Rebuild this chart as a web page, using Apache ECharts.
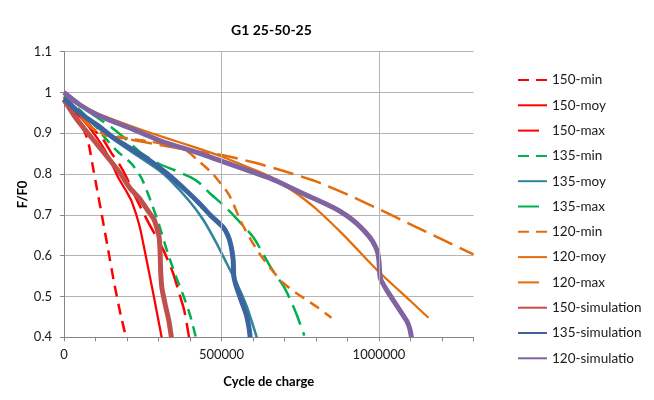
<!DOCTYPE html>
<html><head><meta charset="utf-8">
<script src="https://cdn.jsdelivr.net/npm/echarts@6/dist/echarts.min.js"></script>
<style>html,body{margin:0;padding:0;background:#fff}#c{width:654px;height:400px}</style>
</head><body><div id="c"></div><script>
// ---- data ----
const xMajorLabels = [0, 500000, 1000000];
const xGridLines = [500000, 1000000];

const s150min = [[0,0.99],[30000,0.955],[55000,0.92],[70000,0.895],[80000,0.868],[90000,0.825],[100000,0.783],[120000,0.7],[140000,0.615],[160000,0.53],[180000,0.455],[197000,0.40]];
const s150moy = [[0,0.985],[40000,0.95],[80000,0.915],[117000,0.875],[140000,0.845],[170000,0.795],[200000,0.755],[215000,0.733],[240000,0.672],[262000,0.59],[284000,0.505],[310000,0.40]];
const s150max = [[0,0.99],[50000,0.945],[100000,0.905],[127000,0.882],[150000,0.852],[175000,0.825],[200000,0.79],[224000,0.748],[269000,0.68],[314000,0.616],[345000,0.56],[365000,0.51],[382000,0.465],[397000,0.40]];
const s135min = [[0,0.99],[60000,0.95],[100000,0.918],[127000,0.892],[168000,0.857],[215000,0.825],[246000,0.79],[270000,0.745],[300000,0.68],[330000,0.605],[355000,0.55],[380000,0.5],[400000,0.455],[418000,0.402]];
const s135moy = [[0,0.982],[100000,0.918],[200000,0.862],[300000,0.81],[336000,0.786],[399000,0.733],[442000,0.688],[484000,0.631],[516000,0.582],[548000,0.533],[580000,0.476],[612000,0.40]];
const s135max = [[0,1.0],[80000,0.952],[150000,0.915],[196000,0.886],[240000,0.855],[300000,0.826],[350000,0.81],[400000,0.793],[430000,0.778],[463000,0.753],[500000,0.728],[542000,0.696],[603000,0.643],[656000,0.572],[701000,0.52],[736000,0.461],[763000,0.404]];
const s120min = [[0,1.0],[40000,0.955],[80000,0.92],[120000,0.9],[200000,0.888],[300000,0.876],[380000,0.862],[426000,0.833],[473000,0.8],[524000,0.749],[564000,0.68],[600000,0.63],[627000,0.598],[660000,0.565],[696000,0.533],[744000,0.505],[800000,0.476],[849000,0.448]];
const s120moy = [[0,1.0],[50000,0.972],[106000,0.949],[212000,0.918],[318000,0.89],[414000,0.866],[500000,0.843],[600000,0.812],[654000,0.794],[700000,0.772],[748000,0.747],[800000,0.715],[887000,0.651],[1000000,0.56],[1100000,0.489],[1157000,0.448]];
const s120max = [[0,1.0],[40000,0.955],[80000,0.918],[124000,0.897],[200000,0.886],[300000,0.872],[400000,0.858],[500000,0.847],[600000,0.829],[700000,0.807],[800000,0.782],[900000,0.75],[1000000,0.714],[1100000,0.677],[1200000,0.64],[1300000,0.603]];
const s150sim = [[0,0.982],[40000,0.935],[71000,0.905],[106000,0.872],[145000,0.835],[180000,0.8],[210000,0.765],[240000,0.74],[265000,0.712],[285000,0.69],[295000,0.668],[302000,0.645],[305000,0.61],[307000,0.56],[311000,0.52],[322000,0.478],[333000,0.44],[341000,0.40]];
const s135sim = [[0,0.985],[50000,0.95],[113000,0.916],[159000,0.888],[220000,0.859],[265000,0.837],[326000,0.802],[390000,0.758],[430000,0.728],[464000,0.7],[505000,0.67],[520000,0.65],[530000,0.625],[537000,0.59],[539000,0.55],[545000,0.53],[558000,0.5],[570000,0.475],[580000,0.452],[588000,0.42],[591000,0.40]];
const s120sim = [[0,1.0],[50000,0.97],[106000,0.945],[212000,0.912],[318000,0.878],[414000,0.855],[500000,0.832],[600000,0.805],[654000,0.79],[700000,0.774],[760000,0.752],[855000,0.718],[900000,0.697],[929000,0.679],[960000,0.655],[980000,0.635],[995000,0.61],[1000000,0.585],[1003000,0.55],[1006000,0.541],[1025000,0.515],[1046000,0.49],[1070000,0.462],[1088000,0.44],[1098000,0.42],[1103000,0.40]];

const names = ['150-min','150-moy','150-max','135-min','135-moy','135-max','120-min','120-moy','120-max','150-simulation','135-simulation','120-simulatio'];

// ---- styles ----
const FONT = 'Lato';
const SHORT = [11,7], LONG = [21,8];
function line(name, data, color, width, dash) {
  return {name, type:'line', data, symbol:'none', showSymbol:false, smooth:0.2,
    lineStyle:{color, width, type:dash, cap:'butt', join:'round'}, itemStyle:{color}, silent:true};
}
const RED='#ff0000', GREEN='#00b050', TEAL='#31849b', ORANGE='#e46c0a';
const series = [
  {type:'line', name:'_grid', data:[], symbol:'none', silent:true, z:1,
   markLine:{silent:true, symbol:'none', label:{show:false}, animation:false,
     lineStyle:{color:'#b4b4b4', type:'solid', width:1},
     data: xGridLines.map(v=>({xAxis:v}))}},
  line(names[0], s150min, RED, 2.5, SHORT),
  line(names[1], s150moy, RED, 2.25, 'solid'),
  line(names[2], s150max, RED, 2.5, LONG),
  line(names[3], s135min, GREEN, 2.5, SHORT),
  line(names[4], s135moy, TEAL, 2.5, 'solid'),
  line(names[5], s135max, GREEN, 2.5, LONG),
  line(names[6], s120min, ORANGE, 2.5, SHORT),
  line(names[7], s120moy, ORANGE, 2.25, 'solid'),
  line(names[8], s120max, ORANGE, 2.5, LONG),
  line(names[9], s150sim, '#c0504d', 5, 'solid'),
  line(names[10], s135sim, '#3b64a0', 5, 'solid'),
  line(names[11], s120sim, '#8064a2', 5, 'solid'),
];

const chart = echarts.init(document.getElementById('c'), null, {renderer:'canvas'});
chart.setOption({
  animation:false,
  backgroundColor:'#fff',
  textStyle:{fontFamily:FONT},
  title:{text:'G1 25-50-25', left:226, top:18, textStyle:{fontFamily:FONT, fontSize:14, fontWeight:'bold', color:'#000'}},
  grid:{left:64, top:51.7, right:180.5, bottom:62.7, containLabel:false},
  legend:{data:names, orient:'vertical', left:517, top:73, height:380, padding:0,
    itemWidth:29, itemHeight:14, itemGap:11.3, selectedMode:false,
    itemStyle:{opacity:0},
    textStyle:{fontFamily:FONT, fontSize:13.5, color:'#1a1a1a', lineHeight:14}},
  xAxis:{type:'value', min:0, max:1300000, interval:100000,
    axisLine:{show:true, lineStyle:{color:'#868686', width:1}},
    axisTick:{show:true, length:4, lineStyle:{color:'#868686'}},
    axisLabel:{fontFamily:FONT, fontSize:13, color:'#1a1a1a', margin:11,
      formatter:v => xMajorLabels.includes(v) ? String(v) : ''},
    splitLine:{show:false},
    name:'Cycle de charge', nameLocation:'middle', nameGap:38, nameMoveOverlap:false,
    nameTextStyle:{fontFamily:FONT, fontSize:13, fontWeight:'bold', color:'#000'}},
  yAxis:{type:'value', min:0.4, max:1.1, interval:0.1,
    axisLine:{show:true, lineStyle:{color:'#868686', width:1}},
    axisTick:{show:true, length:4, lineStyle:{color:'#868686'}},
    axisLabel:{fontFamily:FONT, fontSize:13, color:'#1a1a1a', margin:12,
      formatter:v => String(Math.round(v*10)/10)},
    splitLine:{show:true, lineStyle:{color:'#b4b4b4', width:1}},
    name:'F/F0', nameLocation:'middle', nameGap:35, nameRotate:90, nameMoveOverlap:false,
    nameTextStyle:{fontFamily:FONT, fontSize:13, fontWeight:'bold', color:'#000'}},
  series
});
</script></body></html>
